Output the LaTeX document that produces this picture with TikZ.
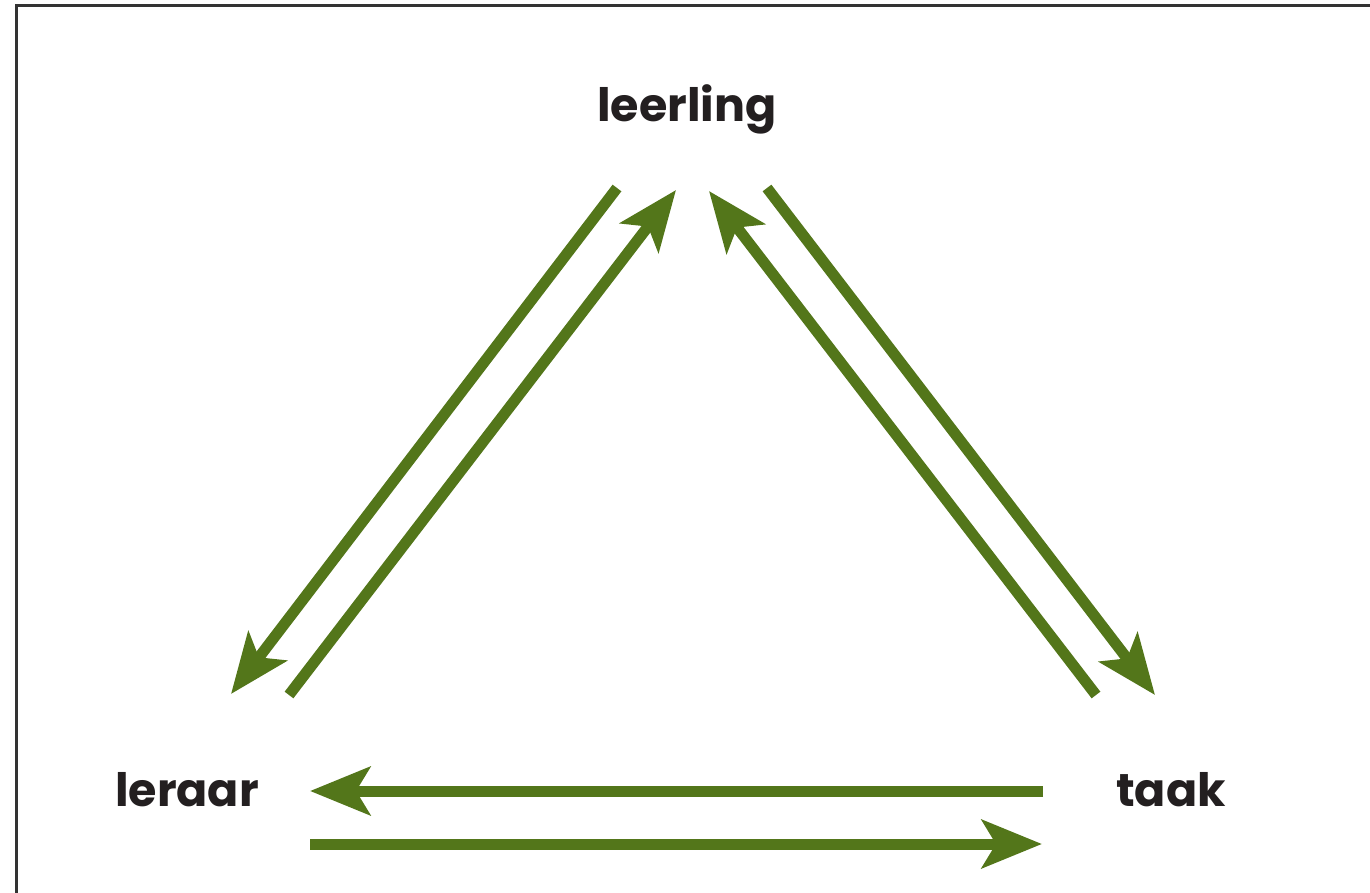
\documentclass[tikz,border=0pt]{standalone}
\usepackage{fontspec}
\setmainfont{Poppins}
\usetikzlibrary{arrows.meta}
\definecolor{arrgreen}{HTML}{53761A}
\definecolor{txt}{HTML}{231F20}
\definecolor{frame}{HTML}{333333}
\begin{document}
\begin{tikzpicture}[x=0.5pt,y=-0.5pt,
  lbl/.style={font=\fontsize{23pt}{27pt}\selectfont\bfseries, text=txt, inner sep=0pt, anchor=base},
  arr/.style={draw=arrgreen, line width=5.5pt, -{Stealth[length=30pt,width=24pt,inset=7pt]}}]
\useasboundingbox (0,0) rectangle (1370,893);
\clip (0,0) rectangle (1370,893);
\draw[frame, line width=1.5pt] (16,1000) -- (16,6) -- (1500,6);
\node[lbl] (leerling) at (687,122) {leerling};
\node[lbl] (leraar) at (187,806) {leraar};
\node[lbl] (taak) at (1171,806) {taak};
\coordinate (a1s) at (617,188); \coordinate (a1e) at (231,694);
\coordinate (a2s) at (289,695); \coordinate (a2e) at (676,190);
\coordinate (a3s) at (1096,695); \coordinate (a3e) at (709,191);
\coordinate (a4s) at (767,188); \coordinate (a4e) at (1155,695);
\coordinate (a5s) at (1043,791); \coordinate (a5e) at (310,791);
\coordinate (a6s) at (310,844); \coordinate (a6e) at (1042,844);
\draw[arr] (a1s) -- (a1e);
\draw[arr] (a2s) -- (a2e);
\draw[arr] (a3s) -- (a3e);
\draw[arr] (a4s) -- (a4e);
\draw[arr] (a5s) -- (a5e);
\draw[arr] (a6s) -- (a6e);
\end{tikzpicture}
\end{document}
